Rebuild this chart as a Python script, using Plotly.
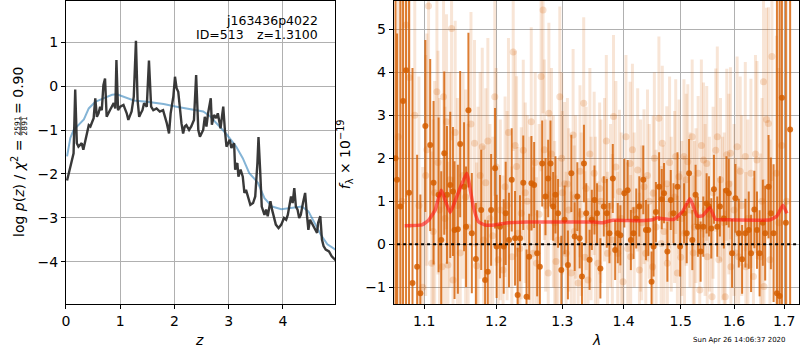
import numpy as np
import plotly.graph_objects as go

# ---------------- Left panel: redshift probability ----------------
PZ_Z = [0.02, 0.11, 0.14, 0.17, 0.20, 0.23, 0.29, 0.32, 0.36, 0.39, 0.42, 0.45, 0.48, 0.51,
        0.54, 0.57, 0.60, 0.63, 0.66, 0.69, 0.72, 0.75, 0.81, 0.88, 0.91, 0.93, 0.96, 1.00,
        1.06, 1.12, 1.15, 1.21, 1.25, 1.29, 1.32, 1.35, 1.38, 1.41, 1.44, 1.49, 1.53, 1.57,
        1.61, 1.67, 1.73, 1.79, 1.86, 1.90, 1.93, 1.98, 2.01, 2.04, 2.07, 2.10, 2.13, 2.16,
        2.19, 2.22, 2.27, 2.31, 2.36, 2.40, 2.44, 2.47, 2.53, 2.56, 2.59, 2.62, 2.67, 2.69,
        2.73, 2.77, 2.80, 2.85, 2.90, 2.93, 2.96, 2.99, 3.02, 3.05, 3.10, 3.12, 3.16, 3.18,
        3.22, 3.26, 3.29, 3.32, 3.35, 3.40, 3.45, 3.49, 3.53, 3.55, 3.58, 3.61, 3.66, 3.69,
        3.72, 3.77, 3.80, 3.83, 3.87, 3.92, 3.97, 4.02, 4.06, 4.09, 4.12, 4.15, 4.18, 4.21,
        4.24, 4.27, 4.30, 4.33, 4.37, 4.41, 4.44, 4.47, 4.50, 4.55, 4.59, 4.63, 4.65, 4.69,
        4.72, 4.75, 4.79, 4.85, 4.90, 4.93, 4.98]
PZ_LOGP = [-2.15, -1.72, -1.53, -0.08, -1.30, -1.38, -1.30, -1.45, -1.23, -1.00, -0.89, -0.92,
           -0.81, -0.73, -0.28, -0.70, -0.62, -0.47, -0.55, 0.02, 0.17, -0.70, -0.55, -0.39,
           -0.51, 0.59, -0.55, -0.47, -0.43, -0.62, -0.77, -0.58, -0.24, 1.03, -0.32, -0.70,
           -0.62, -0.55, -0.39, -0.47, 0.58, -0.47, -0.55, -0.51, -0.58, -0.55, -0.85, -1.08,
           -0.62, -0.24, 0.21, -0.05, -0.13, -0.55, -0.85, -1.08, -0.92, -0.89, -1.00, -0.92,
           -0.77, 0.25, -1.00, -1.15, -1.00, -0.70, -0.92, -0.62, -0.28, -0.88, -0.66, -0.73,
           -0.62, -0.96, -0.47, -1.00, -1.38, -1.30, -1.22, -1.41, -1.30, -1.90, -1.75, -2.06,
           -1.90, -2.06, -2.43, -2.36, -2.51, -2.70, -2.66, -2.51, -1.75, -1.16, -1.90, -2.74,
           -2.93, -2.81, -2.96, -2.62, -2.81, -2.96, -3.15, -3.23, -3.15, -3.00, -3.04, -2.93,
           -2.74, -2.51, -2.66, -2.32, -2.74, -2.81, -3.00, -2.93, -2.66, -2.43, -2.89, -3.27,
           -3.04, -3.15, -3.27, -3.34, -3.11, -2.96, -3.49, -3.64, -3.72, -3.76, -3.87, -3.91,
           -3.97]

PRIOR_Z = [0.02, 0.08, 0.14, 0.23, 0.33, 0.42, 0.54, 0.69, 0.85, 0.94, 1.06, 1.25, 1.49, 1.80,
           2.04, 2.29, 2.53, 2.65, 2.77, 2.95, 3.14, 3.26, 3.38, 3.54, 3.66, 3.80, 3.97, 4.15,
           4.35, 4.47, 4.58, 4.70, 4.82, 4.97]
PRIOR_LOGP = [-1.60, -1.18, -1.00, -0.89, -0.76, -0.51, -0.36, -0.28, -0.20, -0.19, -0.24, -0.33,
              -0.36, -0.41, -0.47, -0.52, -0.58, -0.68, -0.85, -1.08, -1.38, -1.64, -1.98, -2.20,
              -2.55, -2.74, -2.80, -2.77, -2.74, -2.85, -3.10, -3.38, -3.60, -3.72]

Z_TICKS = [0, 1, 2, 3, 4]
LOGP_TICKS = [-4, -3, -2, -1, 0, 1]

# ---------------- Right panel: spectrum ----------------
DARK_WAVE = [1.0625, 1.0645, 1.0687, 1.0722, 1.0761, 1.0800, 1.0845, 1.0906, 1.0949, 1.1015,
             1.1080, 1.1125, 1.1193, 1.1229, 1.1270, 1.1307, 1.1352, 1.1389, 1.1411, 1.1457,
             1.1489, 1.1543, 1.1571, 1.1604, 1.1652, 1.1709, 1.1785, 1.1841, 1.1879, 1.1927,
             1.1984, 1.2007, 1.2056, 1.2110, 1.2139, 1.2188, 1.2228, 1.2277, 1.2316, 1.2351,
             1.2400, 1.2449, 1.2489, 1.2523, 1.2564, 1.2610, 1.2651, 1.2687, 1.2738, 1.2779,
             1.2815, 1.2856, 1.2892, 1.2933, 1.2984, 1.3035, 1.3088, 1.3142, 1.3195, 1.3238,
             1.3275, 1.3312, 1.3344, 1.3381, 1.3435, 1.3472, 1.3515, 1.3557, 1.3612, 1.3668,
             1.3718, 1.3762, 1.3818, 1.3857, 1.3901, 1.3945, 1.4012, 1.4068, 1.4123, 1.4169,
             1.4215, 1.4268, 1.4337, 1.4383, 1.4424, 1.4481, 1.4516, 1.4557, 1.4614, 1.4661,
             1.4701, 1.4761, 1.4821, 1.4870, 1.4942, 1.4990, 1.5062, 1.5110, 1.5153, 1.5213,
             1.5273, 1.5316, 1.5366, 1.5416, 1.5478, 1.5522, 1.5566, 1.5616, 1.5679, 1.5729,
             1.5804, 1.5854, 1.5898, 1.5962, 1.6027, 1.6092, 1.6157, 1.6222, 1.6287, 1.6333,
             1.6398, 1.6450, 1.6502, 1.6567, 1.6614, 1.6682, 1.6729, 1.6784, 1.6852, 1.6906,
             1.6953, 1.7035, 1.7123]
DARK_FLUX = [2.00, 1.50, 0.88, 3.33, 4.05, 1.20, -0.90, -0.52, -1.14, 2.75,
             2.31, 1.43, 1.15, 0.10, 2.12, 1.15, 1.38, 1.23, 0.33, 0.35,
             2.33, 1.34, 0.41, 3.12, 0.26, -0.34, 0.80, -0.83, -0.64, 0.80,
             1.77, -0.05, 0.41, -0.05, 0.72, 0.10, 1.50, 0.14, -1.18, 0.14,
             1.43, -1.22, -0.29, 1.42, 1.38, -0.21, -0.52, 1.88, 1.11, 1.53,
             1.88, 0.88, 1.15, 0.72, -0.60, 0.57, -0.48, 1.65, 0.18, 1.11,
             0.14, -0.75, 1.88, 0.72, -0.36, 0.57, 1.03, 0.72, -0.56, 0.88,
             0.72, 0.26, 1.53, -0.13, 0.26, 0.21, 1.19, 1.26, 0.10, 0.26,
             0.60, 0.88, 1.50, 0.33, 0.33, -0.87, -0.05, 0.75, 1.34, 1.05,
             1.19, -0.17, 1.03, 0.72, 1.34, -0.05, 0.72, 0.26, 1.65, 0.10,
             1.15, 0.41, -0.17, 0.41, 0.95, 0.88, 0.37, 1.28, 0.41, 0.88,
             0.60, 1.25, 1.19, -0.21, 1.07, 0.26, -0.35, 0.26, 0.33, -0.21,
             0.81, 0.33, -0.21, 0.50, 0.26, 1.34, 0.72, 0.26, -1.14, -1.20,
             3.41, 0.50, 2.67]
DARK_ERR = [8.0, 3.4, 8.0, 8.0, 8.0, 8.0, 5.0, 2.6, 2.3, 2.0,
            2.0, 1.9, 1.8, 1.6, 1.9, 1.6, 1.7, 1.5, 1.6, 1.5,
            1.7, 1.5, 1.4, 1.8, 1.4, 1.3, 1.4, 1.4, 1.2, 1.3,
            1.4, 1.2, 1.2, 1.1, 1.2, 1.1, 1.2, 1.1, 1.1, 1.0,
            1.1, 1.1, 1.0, 1.1, 1.0, 1.0, 1.0, 1.0, 0.9, 0.9,
            1.0, 0.8, 0.9, 0.8, 0.8, 0.8, 0.8, 0.9, 0.8, 0.8,
            0.7, 0.8, 0.9, 0.7, 0.7, 0.7, 0.8, 0.7, 0.7, 0.7,
            0.8, 0.7, 0.8, 0.7, 0.7, 0.7, 0.8, 0.7, 0.7, 0.6,
            0.7, 0.7, 0.8, 0.7, 0.6, 0.7, 0.7, 0.7, 0.8, 0.7,
            0.7, 0.7, 0.7, 0.7, 0.8, 0.7, 0.7, 0.7, 0.8, 0.7,
            0.7, 0.7, 0.7, 0.7, 0.7, 0.7, 0.7, 0.8, 0.7, 0.7,
            0.7, 0.8, 0.8, 0.8, 0.8, 0.8, 0.8, 0.8, 0.9, 0.9,
            0.9, 0.9, 1.0, 1.0, 1.1, 1.2, 1.3, 1.6, 8.0, 8.0,
            8.0, 9.0, 8.0]

LIGHT_WAVE = [1.0660, 1.0710, 1.0761, 1.0805, 1.0875, 1.0930, 1.0980, 1.1020, 1.1058, 1.1100,
              1.1140, 1.1170, 1.1205, 1.1240, 1.1260, 1.1300, 1.1320, 1.1370, 1.1390, 1.1450,
              1.1530, 1.1600, 1.1690, 1.1740, 1.1800, 1.1820, 1.1850, 1.1910, 1.1980, 1.2030,
              1.2060, 1.2130, 1.2180, 1.2230, 1.2250, 1.2300, 1.2320, 1.2370, 1.2400, 1.2460,
              1.2520, 1.2550, 1.2600, 1.2670, 1.2700, 1.2740, 1.2780, 1.2790, 1.2830, 1.2880,
              1.2930, 1.2960, 1.3000, 1.3035, 1.3060, 1.3100, 1.3140, 1.3170, 1.3210, 1.3250,
              1.3300, 1.3340, 1.3380, 1.3410, 1.3460, 1.3510, 1.3570, 1.3620, 1.3680, 1.3730,
              1.3780, 1.3830, 1.3900, 1.3930, 1.3990, 1.4040, 1.4110, 1.4120, 1.4180, 1.4240,
              1.4270, 1.4310, 1.4350, 1.4380, 1.4440, 1.4500, 1.4510, 1.4560, 1.4610, 1.4650,
              1.4670, 1.4750, 1.4760, 1.4830, 1.4910, 1.4940, 1.4970, 1.5020, 1.5060, 1.5070,
              1.5130, 1.5170, 1.5210, 1.5230, 1.5280, 1.5320, 1.5350, 1.5420, 1.5480, 1.5490,
              1.5530, 1.5580, 1.5650, 1.5710, 1.5740, 1.5780, 1.5830, 1.5860, 1.5930, 1.5940,
              1.6000, 1.6060, 1.6090, 1.6150, 1.6220, 1.6230, 1.6330, 1.6380, 1.6450, 1.6520,
              1.6580, 1.6590, 1.6680, 1.6710, 1.6750, 1.6840, 1.6890, 1.6950, 1.7050]
LIGHT_FLUX = [2.50, 1.00, 5.10, 3.88, 3.00, 0.90, -1.00, 1.60, 5.54, -0.44,
              1.20, 3.55, 0.80, -0.52, 3.43, 2.85, -0.48, 5.02, -0.83, 0.90,
              1.60, 0.40, 2.35, 0.90, 2.27, 0.10, 1.43, 0.60, 3.43, -0.36,
              0.80, 1.34, 2.60, -0.29, 4.47, 1.81, 0.26, 0.72, 2.19, 1.00,
              2.85, -0.21, -0.44, 3.90, 5.45, 0.90, -0.67, 3.05, 2.10, 0.50,
              0.10, 3.43, 1.20, 1.41, -0.21, 0.80, -0.67, 2.54, 1.10, -0.90,
              0.70, 3.28, 1.30, -0.83, 0.60, 1.65, -0.44, 1.00, 1.50, -0.21,
              0.90, 2.97, -0.21, 1.23, -0.87, 2.50, 1.88, -0.29, 0.80, 1.73,
              -0.60, 0.50, 1.34, -0.21, 1.00, -0.52, 1.19, 0.40, 2.93, 0.02,
              2.35, 1.41, -0.44, 0.70, 2.04, -0.67, 1.57, 0.60, 2.04, 0.26,
              1.92, 0.80, 2.50, -0.20, 0.90, 1.65, -1.06, 1.96, 1.88, -0.29,
              0.70, -1.22, 2.19, -0.36, 1.50, 0.60, -1.22, 2.08, 2.12, -0.52,
              0.80, 2.27, -0.29, 0.90, 2.04, -0.52, 1.65, -0.75, 1.96, -0.29,
              3.78, -0.98, 2.81, -0.36, 4.37, 1.65, 0.50, 2.30, 1.00]
LIGHT_ERR = [5.0, 5.0, 4.0, 3.5, 3.0, 3.0, 2.8, 2.8, 2.8, 2.6,
             2.6, 2.6, 2.6, 2.5, 2.6, 2.5, 2.4, 2.6, 2.4, 2.5,
             2.4, 2.4, 2.4, 2.3, 2.3, 2.2, 2.2, 2.2, 2.3, 2.1,
             2.1, 2.1, 2.2, 2.1, 2.3, 2.1, 2.0, 2.0, 2.1, 2.0,
             2.2, 2.0, 2.0, 2.2, 2.4, 2.0, 1.9, 2.1, 2.0, 1.9,
             1.9, 2.1, 1.9, 1.9, 1.9, 1.9, 1.9, 2.0, 1.9, 1.9,
             1.9, 2.0, 1.9, 1.9, 1.9, 1.9, 1.9, 1.9, 1.9, 1.9,
             1.9, 1.9, 1.9, 1.9, 1.9, 1.9, 1.9, 1.9, 1.8, 1.9,
             1.8, 1.8, 1.8, 1.8, 1.8, 1.8, 1.8, 1.8, 1.9, 1.8,
             1.8, 1.8, 1.8, 1.8, 1.8, 1.8, 1.8, 1.8, 1.8, 1.8,
             1.8, 1.8, 1.8, 1.8, 1.8, 1.8, 1.8, 1.8, 1.8, 1.8,
             1.8, 1.9, 1.9, 1.9, 1.9, 1.9, 2.0, 2.0, 2.0, 2.0,
             2.0, 2.1, 2.1, 2.1, 2.2, 2.2, 2.2, 2.3, 2.3, 2.4,
             2.5, 2.5, 2.7, 2.8, 2.9, 3.2, 3.6, 4.5, 5.0]

LIGHT2_WAVE = [1.1035, 1.1120, 1.1185, 1.1280, 1.1345, 1.1420, 1.1490, 1.1565, 1.1640, 1.1720,
               1.1770, 1.1880, 1.1950, 1.2000, 1.2100, 1.2160, 1.2280, 1.2350, 1.2430, 1.2500,
               1.2580, 1.2640, 1.2720, 1.2860, 1.2900, 1.2990, 1.3080, 1.3190, 1.3280, 1.3360,
               1.3440, 1.3530, 1.3600, 1.3710, 1.3810, 1.3870, 1.3960, 1.4070, 1.4150, 1.4290,
               1.4410, 1.4530, 1.4700, 1.4800, 1.4890, 1.5000, 1.5100, 1.5250, 1.5380, 1.5450,
               1.5600, 1.5680, 1.5810, 1.5900, 1.6030, 1.6120, 1.6270, 1.6420, 1.6550, 1.6640]
LIGHT2_FLUX = [2.2, 0.3, 1.9, 0.6, 1.5, 2.6, -0.2, 1.1, 2.8, -0.5,
               1.6, 2.4, 0.2, 1.8, -0.6, 0.9, 2.3, -0.1, 1.2, 0.4,
               1.9, 0.7, 2.2, 1.0, -0.4, 2.0, 1.4, 0.3, 1.7, -0.3,
               2.1, 0.5, 1.3, 2.4, 0.1, 1.8, 0.6, -0.1, 2.2, 0.9,
               1.6, 2.0, 0.3, 1.9, 1.1, -0.3, 1.5, 0.4, 2.3, 0.8,
               1.2, 2.5, 0.5, 1.4, -0.2, 1.7, 0.6, 2.1, 1.0, 2.9]
LIGHT2_ERR = [2.7, 2.6, 2.6, 2.6, 2.5, 2.6, 2.5, 2.5, 2.6, 2.4,
              2.4, 2.4, 2.3, 2.3, 2.2, 2.2, 2.2, 2.1, 2.1, 2.1,
              2.1, 2.1, 2.1, 2.0, 2.0, 2.0, 2.0, 2.0, 2.0, 2.0,
              2.0, 2.0, 2.0, 2.0, 2.0, 2.0, 2.0, 2.0, 2.0, 2.0,
              2.0, 2.0, 2.0, 2.0, 2.0, 2.0, 2.0, 2.0, 2.0, 2.0,
              2.0, 2.1, 2.1, 2.1, 2.2, 2.2, 2.3, 2.3, 2.4, 2.6]

MODEL_WAVE = [1.0743, 1.0970, 1.1058, 1.1147, 1.1227, 1.1350, 1.1442, 1.1580, 1.1674, 1.1744,
              1.1838, 1.1981, 1.2177, 1.2448, 1.2956, 1.3488, 1.3651, 1.3817, 1.4261, 1.4498,
              1.4586, 1.4644, 1.4880, 1.5031, 1.5170, 1.5305, 1.5400, 1.5539, 1.5646, 1.5868,
              1.6717, 1.6852, 1.6974, 1.7056]
MODEL_FLUX = [0.43, 0.45, 0.56, 0.80, 1.26, 0.74, 1.11, 1.65, 0.87, 0.53,
              0.45, 0.45, 0.50, 0.52, 0.52, 0.52, 0.50, 0.56, 0.55, 0.57,
              0.62, 0.60, 0.58, 0.76, 1.06, 0.66, 0.66, 0.85, 0.58, 0.57,
              0.57, 0.66, 0.91, 0.72]

WAVE_TICKS = [1.1, 1.2, 1.3, 1.4, 1.5, 1.6, 1.7]
FLUX_TICKS = [-1, 0, 1, 2, 3, 4, 5]

TITLE_TEXT = "j163436p4022"
ID_TEXT = "ID=513"
ZBEST_TEXT = "z=1.3100"
STAMP_TEXT = "Sun Apr 26 14:06:37 2020"

# ---------------- Figure ----------------
W, H = 800, 350
FONT = "DejaVu Sans"
G141 = (213, 94, 0)


def px(x):
    return x / W


def py(y):
    return 1 - y / H


fig = go.Figure()

fig.add_trace(go.Scatter(x=PRIOR_Z, y=PRIOR_LOGP, mode="lines",
                         line=dict(color="rgba(31,119,180,0.55)", width=2),
                         xaxis="x", yaxis="y", showlegend=False))
fig.add_trace(go.Scatter(x=PZ_Z, y=PZ_LOGP, mode="lines",
                         line=dict(color="rgba(40,40,40,0.92)", width=2.4),
                         xaxis="x", yaxis="y", showlegend=False))

for wv, fl, er in [(LIGHT_WAVE, LIGHT_FLUX, LIGHT_ERR), (LIGHT2_WAVE, LIGHT2_FLUX, LIGHT2_ERR)]:
    fig.add_trace(go.Scatter(
        x=wv, y=fl, mode="markers",
        marker=dict(size=7, color="rgba(%d,%d,%d,0.2)" % G141, line=dict(width=0)),
        error_y=dict(type="data", array=er, color="rgba(%d,%d,%d,0.16)" % G141,
                     thickness=3, width=0),
        xaxis="x2", yaxis="y2", showlegend=False))
fig.add_trace(go.Scatter(
    x=DARK_WAVE, y=DARK_FLUX, mode="markers",
    marker=dict(size=6, color="rgba(%d,%d,%d,0.85)" % G141, line=dict(width=0)),
    error_y=dict(type="data", array=DARK_ERR, color="rgba(%d,%d,%d,0.8)" % G141,
                 thickness=2, width=0),
    xaxis="x2", yaxis="y2", showlegend=False))
fig.add_trace(go.Scatter(x=MODEL_WAVE, y=MODEL_FLUX, mode="lines",
                         line=dict(color="rgba(255,20,20,0.6)", width=3.5, shape="spline",
                                   smoothing=0.4),
                         xaxis="x2", yaxis="y2", showlegend=False))
fig.add_trace(go.Scatter(x=[WAVE_TICKS[0] * 0.9, WAVE_TICKS[-1] * 1.1], y=[0, 0], mode="lines",
                         line=dict(color="black", width=2, dash="dot"),
                         xaxis="x2", yaxis="y2", showlegend=False))

axis_common = dict(showline=True, mirror=True, linecolor="black", linewidth=1,
                   ticks="outside", ticklen=4, tickwidth=1, tickcolor="black",
                   showgrid=True, gridcolor="#b0b0b0", gridwidth=1, zeroline=False,
                   tickfont=dict(family=FONT, size=14, color="black"))

fig.update_layout(
    width=W, height=H, margin=dict(l=0, r=0, t=0, b=0),
    paper_bgcolor="white", plot_bgcolor="white", showlegend=False,
    xaxis=dict(domain=[px(62.3), px(333)], range=[0, 4.967], anchor="y",
               tickvals=Z_TICKS, **axis_common),
    yaxis=dict(domain=[py(304), py(1)], range=[-4.955, 1.932], anchor="x",
               tickvals=LOGP_TICKS, **axis_common),
    xaxis2=dict(domain=[px(391.7), px(799.3)], type="log",
                range=[np.log10(1.0602), np.log10(1.7314)], anchor="y2",
                tickvals=WAVE_TICKS, ticktext=["%.1f" % v for v in WAVE_TICKS],
                **axis_common),
    yaxis2=dict(domain=[py(304), py(1)], range=[-1.388, 5.658], anchor="x2",
                tickvals=FLUX_TICKS, **axis_common),
)

ann = []


def text(x, y, s, size=14, xanchor="center", angle=0):
    ann.append(dict(x=px(x), y=py(y), xref="paper", yref="paper", text=s, showarrow=False,
                    xanchor=xanchor, yanchor="middle", textangle=angle,
                    font=dict(family=FONT, size=size, color="black")))


text(196, 340, "<i>z</i>")
text(595, 340, "<i>λ</i>")
text(318, 20, TITLE_TEXT, size=12.5, xanchor="right")
text(243.5, 34, ID_TEXT, size=12.5, xanchor="right")
text(318, 34, ZBEST_TEXT, size=12.5, xanchor="right")
text(788, 340, STAMP_TEXT, size=7, xanchor="right")
# left y label (with stacked fraction)
text(14, 188, "log <i>p</i>(<i>z</i>) / <i>χ</i><sup>2</sup> =", angle=-90)
text(13.5, 126, "2591", size=7.5, angle=-90)
text(20.5, 126, "2891", size=7.5, angle=-90)
text(14, 90, "= 0.90", angle=-90)
# right y label
text(343, 154, "<i>f</i><sub>λ</sub> × 10<sup>−19</sup>", angle=-90)

fig.update_layout(annotations=ann)
fig.add_shape(type="line", xref="paper", yref="paper", x0=px(17), x1=px(17),
              y0=py(116.5), y1=py(135.5), line=dict(color="black", width=0.8))

fig.write_html("out.html", config={"displayModeBar": False},
               post_script="document.body.style.margin='0';document.body.style.overflow='hidden';")
